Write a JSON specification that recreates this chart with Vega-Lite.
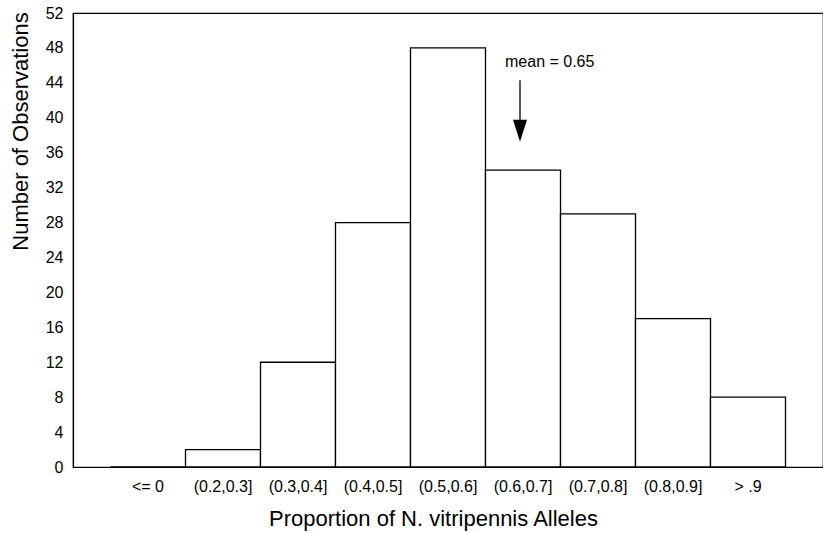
{
  "$schema": "https://vega.github.io/schema/vega-lite/v6.json",
  "autosize": "none",
  "width": 750,
  "height": 454,
  "padding": {"left": 73, "top": 13, "right": 0, "bottom": 66},
  "background": "white",
  "config": {
    "view": {"stroke": "black", "strokeWidth": 1.2},
    "font": "Liberation Sans",
    "axis": {
      "labelFont": "Liberation Sans",
      "titleFont": "Liberation Sans",
      "labelColor": "black",
      "titleColor": "black",
      "domainColor": "black",
      "domainWidth": 1.2,
      "titleFontWeight": "normal",
      "grid": false,
      "ticks": false,
      "labelOverlap": false
    },
    "axisY": {
      "labelOverlap": false,
      "labelFontSize": 16,
      "labelPadding": 10,
      "titleFontSize": 22,
      "titleBaseline": "alphabetic",
      "titleX": -46,
      "titleY": 118
    }
  },
  "datasets": {
    "bins": [
      {"bin": "<= 0", "count": 0},
      {"bin": "(0.2,0.3]", "count": 2},
      {"bin": "(0.3,0.4]", "count": 12},
      {"bin": "(0.4,0.5]", "count": 28},
      {"bin": "(0.5,0.6]", "count": 48},
      {"bin": "(0.6,0.7]", "count": 34},
      {"bin": "(0.7,0.8]", "count": 29},
      {"bin": "(0.8,0.9]", "count": 17},
      {"bin": "> .9", "count": 8}
    ],
    "note": [
      {"bin": "(0.6,0.7]", "label": "mean = 0.65"}
    ]
  },
  "encoding": {
    "x": {
      "field": "bin",
      "type": "nominal",
      "scale": {
        "domain": ["<= 0", "(0.2,0.3]", "(0.3,0.4]", "(0.4,0.5]", "(0.5,0.6]", "(0.6,0.7]", "(0.7,0.8]", "(0.8,0.9]", "> .9"],
        "paddingInner": 0,
        "paddingOuter": 0.5
      },
      "axis": {
        "title": "Proportion of N. vitripennis Alleles",
        "labelAngle": 0,
        "labelFontSize": 16,
        "labelPadding": 11,
        "titleFontSize": 22,
        "titleBaseline": "alphabetic",
        "titleX": 360,
        "titleY": 58
      }
    }
  },
  "layer": [
    {
      "data": {"name": "bins"},
      "mark": {"type": "bar", "fill": "white", "stroke": "black", "strokeWidth": 1.3},
      "encoding": {
        "y": {
          "field": "count",
          "type": "quantitative",
          "scale": {"domain": [0, 52], "nice": false},
          "axis": {"title": "Number of Observations", "values": [0, 4, 8, 12, 16, 20, 24, 28, 32, 36, 40, 44, 48, 52], "labelOverlap": false}
        }
      }
    },
    {
      "data": {"name": "note"},
      "mark": {"type": "rule", "color": "black", "strokeWidth": 1.3},
      "encoding": {
        "x": {"field": "bin", "type": "nominal", "bandPosition": 0.46},
        "y": {"datum": 44.3, "type": "quantitative", "axis": {"title": "Number of Observations", "values": [0, 4, 8, 12, 16, 20, 24, 28, 32, 36, 40, 44, 48, 52], "labelOverlap": false}},
        "y2": {"datum": 39.3}
      }
    },
    {
      "data": {"name": "note"},
      "mark": {"type": "point", "shape": "M-0.64,-1 L0.64,-1 L0,1 Z", "filled": true, "color": "black", "opacity": 1, "size": 484},
      "encoding": {
        "x": {"field": "bin", "type": "nominal", "bandPosition": 0.46},
        "y": {"datum": 38.5, "type": "quantitative", "axis": {"title": "Number of Observations", "values": [0, 4, 8, 12, 16, 20, 24, 28, 32, 36, 40, 44, 48, 52], "labelOverlap": false}}
      }
    },
    {
      "data": {"name": "note"},
      "mark": {"type": "text", "align": "left", "baseline": "alphabetic", "fontSize": 16, "font": "Liberation Sans", "color": "black"},
      "encoding": {
        "x": {"field": "bin", "type": "nominal", "bandPosition": 0.26},
        "y": {"datum": 45.8, "type": "quantitative", "axis": {"title": "Number of Observations", "values": [0, 4, 8, 12, 16, 20, 24, 28, 32, 36, 40, 44, 48, 52], "labelOverlap": false}},
        "text": {"field": "label"}
      }
    }
  ]
}
